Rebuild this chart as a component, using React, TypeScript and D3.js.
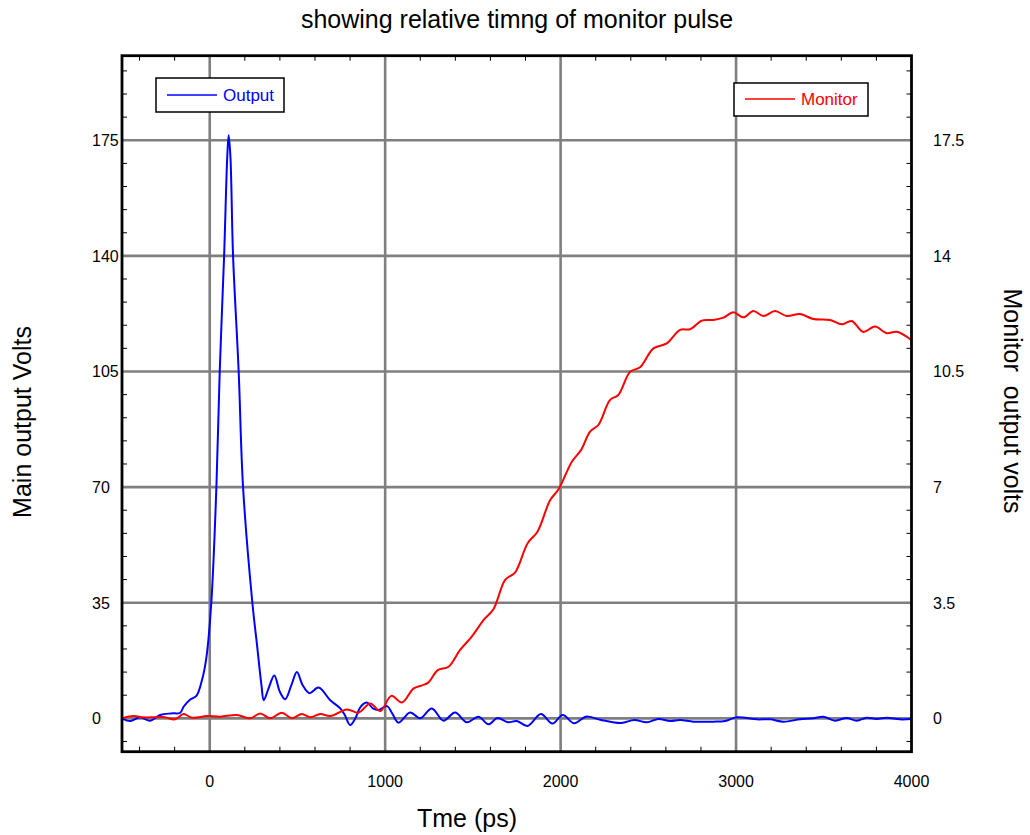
import React from "react";
import * as d3 from "d3";

// ---- data ----
const outputTime = [-500,-453,-396,-339,-282,-220,-168,-149,-111,-76,-44,-20,9,38,57,82,100,108,118,133,165,190,243,270,295,308,335,368,400,430,465,497,530,569,620,687,744,770,800,830,860,896,930,962,1010,1040,1076,1142,1199,1266,1332,1399,1465,1532,1589,1640,1700,1750,1812,1888,1953,2012,2078,2145,2225,2345,2420,2491,2557,2624,2681,2757,2871,2937,3004,3118,3194,3270,3365,3440,3497,3564,3631,3688,3745,3802,3859,3934,4000];
const outputVolts = [0,-0.8,0.3,-0.7,1,1.5,1.7,3.5,5.7,6.8,11.6,18,35,70,105,140,170,176.5,170,140,105,70,35,22,10,5.5,9,13,8,5.8,10,14,10,7.6,9.3,5.5,3,1,-2,0,3.5,4.8,3,2.5,3.7,1.5,-1.3,1.8,0,3,-0.7,1.8,-1.2,0.5,-1.8,0.1,-1.2,-0.8,-2.3,1.3,-1.6,1,-1.5,0.5,-0.4,-1.4,-0.5,-1.2,-0.2,-0.8,-0.5,-1,-1,-0.8,0.3,-0.3,-0.3,-1,-0.3,0,0.5,-0.7,0.1,-0.7,0.2,-0.2,0.2,-0.3,-0.2];

const monitorTime = [-500,-434,-380,-339,-263,-197,-149,-101,-16,60,155,231,288,345,411,468,525,573,630,687,782,848,915,972,1035,1095,1161,1210,1245,1300,1361,1427,1490,1565,1617,1684,1741,1812,1868,1940,1990,2064,2116,2168,2215,2282,2329,2396,2453,2529,2605,2681,2738,2805,2871,2928,2985,3042,3099,3156,3222,3289,3365,3440,3536,3602,3659,3725,3792,3859,3916,4000];
const monitorVolts = [0,0.07,0.03,0.03,0.04,-0.03,0.13,0.02,0.07,0.05,0.1,0,0.15,0,0.17,0,0.13,0.03,0.13,0.07,0.27,0.17,0.45,0.22,0.68,0.48,0.9,1.0,1.08,1.46,1.56,2.07,2.45,3.0,3.3,4.19,4.42,5.3,5.65,6.6,6.95,7.77,8.12,8.68,8.88,9.64,9.79,10.49,10.63,11.2,11.35,11.76,11.78,12.04,12.06,12.13,12.29,12.14,12.33,12.18,12.33,12.18,12.24,12.09,12.06,11.93,12.03,11.7,11.86,11.66,11.7,11.45];

const xTicks = [0, 1000, 2000, 3000, 4000];
const xTickLabels = ["0", "1000", "2000", "3000", "4000"];
const leftTicks = [0, 35, 70, 105, 140, 175];
const leftTickLabels = ["0", "35", "70", "105", "140", "175"];
const rightTicks = [0, 3.5, 7, 10.5, 14, 17.5];
const rightTickLabels = ["0", "3.5", "7", "10.5", "14", "17.5"];

const title = "showing relative timng of monitor pulse";
const xLabel = "Tme (ps)";
const leftLabel = "Main output Volts";
const rightLabel = "Monitor\u00a0\u00a0output volts";
const seriesNames = ["Output", "Monitor"];

// ---- layout ----
const W = 1030, H = 835;
const L = 122, R = 911.5, T = 55.7, B = 751.7;
const FONT = "'Liberation Sans', Arial, Helvetica, sans-serif";

export default function App() {
  const x = d3.scaleLinear().domain([-500, 4000]).range([L, R]);
  const yL = d3.scaleLinear().domain([-10.1, 200.6]).range([B, T]);
  const yR = d3.scaleLinear().domain([-1.01, 20.06]).range([B, T]);

  const outData = outputTime.map((t, i) => [t, outputVolts[i]] as [number, number]);
  const monData = monitorTime.map((t, i) => [t, monitorVolts[i]] as [number, number]);

  const outLine = d3.line<[number, number]>().x(d => x(d[0])).y(d => yL(d[1])).curve(d3.curveCatmullRom.alpha(0.5));
  const monLine = d3.line<[number, number]>().x(d => x(d[0])).y(d => yR(d[1])).curve(d3.curveCatmullRom.alpha(0.5));

  const minorX = d3.range(-400, 4000, 200).filter(v => v % 1000 !== 0);
  const minorY = d3.range(-7, 200, 7).filter(v => v % 35 !== 0);

  return (
    <svg width={W} height={H} style={{ position: "absolute", left: 0, top: 0, background: "#fff" }} fontFamily={FONT}>
      <defs>
        <clipPath id="plotclip"><rect x={L} y={T} width={R - L} height={B - T} /></clipPath>
      </defs>
      <rect x={0} y={0} width={W} height={H} fill="#fff" />
      {/* grid */}
      {xTicks.filter(v => v > -500 && v < 4000).map(v => (
        <line key={"gx" + v} x1={x(v)} x2={x(v)} y1={T} y2={B} stroke="#7f7f7f" strokeWidth={2.6} />
      ))}
      {leftTicks.map(v => (
        <line key={"gy" + v} x1={L} x2={R} y1={yL(v)} y2={yL(v)} stroke="#7f7f7f" strokeWidth={2.6} />
      ))}
      {/* minor ticks */}
      {minorX.map(v => (
        <g key={"mx" + v}>
          <line x1={x(v)} x2={x(v)} y1={B} y2={B - 5} stroke="#000" strokeWidth={1} />
          <line x1={x(v)} x2={x(v)} y1={T} y2={T + 5} stroke="#000" strokeWidth={1} />
        </g>
      ))}
      {minorY.map(v => (
        <g key={"my" + v}>
          <line x1={L} x2={L + 5} y1={yL(v)} y2={yL(v)} stroke="#000" strokeWidth={1} />
          <line x1={R} x2={R - 5} y1={yL(v)} y2={yL(v)} stroke="#000" strokeWidth={1} />
        </g>
      ))}
      {/* series */}
      <g clipPath="url(#plotclip)">
        <path d={outLine(outData) || ""} fill="none" stroke="#0000ff" strokeWidth={2} />
        <path d={monLine(monData) || ""} fill="none" stroke="#ff0000" strokeWidth={2} />
      </g>
      {/* frame */}
      <rect x={L} y={T} width={R - L} height={B - T} fill="none" stroke="#000" strokeWidth={2.8} />
      {/* tick labels */}
      {xTicks.map((v, i) => (
        <text key={"xt" + v} x={x(v)} y={787} textAnchor="middle" fontSize={16} fill="#000">{xTickLabels[i]}</text>
      ))}
      {leftTicks.map((v, i) => (
        <text key={"lt" + v} x={92} y={yL(v) + 6} textAnchor="start" fontSize={16} fill="#000">{leftTickLabels[i]}</text>
      ))}
      {rightTicks.map((v, i) => (
        <text key={"rt" + v} x={933} y={yR(v) + 6} textAnchor="start" fontSize={16} fill="#000">{rightTickLabels[i]}</text>
      ))}
      {/* titles */}
      <text x={517} y={28} textAnchor="middle" fontSize={25} fill="#000">{title}</text>
      <text x={467} y={827} textAnchor="middle" fontSize={25} fill="#000">{xLabel}</text>
      <text transform={`translate(31,422) rotate(-90)`} textAnchor="middle" fontSize={25} fill="#000">{leftLabel}</text>
      <text transform={`translate(1004,401) rotate(90)`} textAnchor="middle" fontSize={25} fill="#000">{rightLabel}</text>
      {/* legends */}
      <g>
        <rect x={156} y={78} width={128} height={34} fill="#fff" stroke="#000" strokeWidth={1.5} />
        <line x1={167} x2={217} y1={95} y2={95} stroke="#0000ff" strokeWidth={1.5} />
        <text x={223} y={101} fontSize={17} fill="#0000ff">{seriesNames[0]}</text>
      </g>
      <g>
        <rect x={734} y={83} width={134} height={33} fill="#fff" stroke="#000" strokeWidth={1.5} />
        <line x1={745} x2={795} y1={99} y2={99} stroke="#ff0000" strokeWidth={1.5} />
        <text x={801} y={105} fontSize={17} fill="#ff0000">{seriesNames[1]}</text>
      </g>
    </svg>
  );
}
